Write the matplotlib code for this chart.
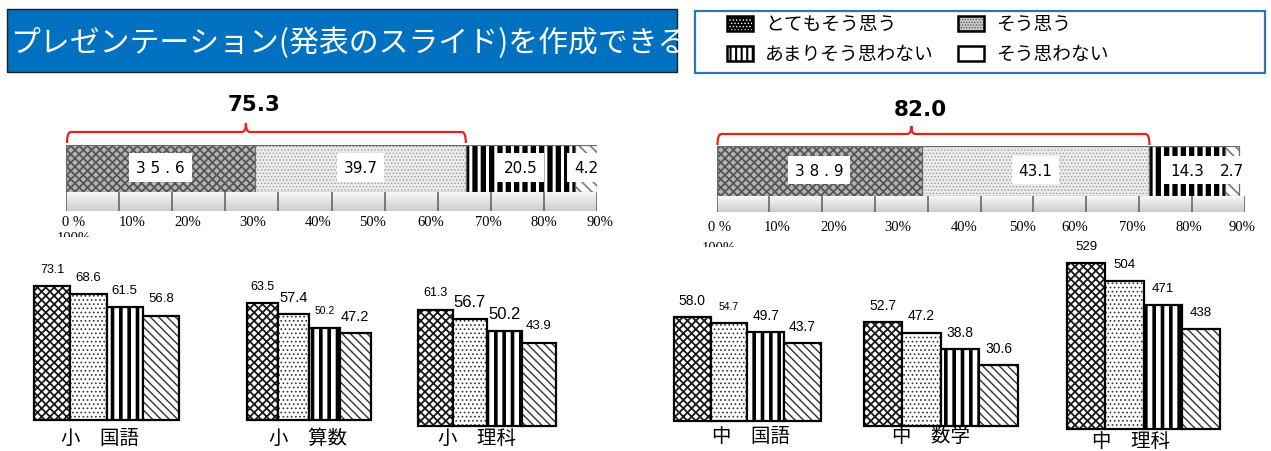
import matplotlib
matplotlib.use('Agg')
import matplotlib.pyplot as plt
import numpy as np
from matplotlib.patches import Rectangle, PathPatch
from matplotlib.path import Path
from matplotlib.transforms import Bbox, blended_transform_factory

plt.rcParams['font.family'] = ['Noto Sans CJK JP', 'DejaVu Sans']
plt.rcParams['hatch.linewidth'] = 1.0

# ---------------- data ----------------
title_text = 'プレゼンテーション(発表のスライド)を作成できる'
legend_labels = ['とてもそう思う', 'そう思う', 'あまりそう思わない', 'そう思わない']

elem_shares = [35.6, 39.7, 20.5, 4.2]
elem_positive = 75.3
jhs_shares = [38.9, 43.1, 14.3, 2.7]
jhs_positive = 82.0

pct_ticks = [0, 10, 20, 30, 40, 50, 60, 70, 80, 90, 100]
pct_tick_labels = ['0 %', '10%', '20%', '30%', '40%', '50%', '60%', '70%', '80%', '90%']
pct_cut_label = '100%'

subject_names = ['小　国語', '小　算数', '小　理科', '中　国語', '中　数学', '中　理科']
subj_kokugo_e = [73.1, 68.6, 61.5, 56.8]
subj_sansu_e = [63.5, 57.4, 50.2, 47.2]
subj_rika_e = [61.3, 56.7, 50.2, 43.9]
subj_kokugo_j = [58.0, 54.7, 49.7, 43.7]
subj_sugaku_j = [52.7, 47.2, 38.8, 30.6]
subj_rika_j = [529, 504, 471, 438]
subject_values = [subj_kokugo_e, subj_sansu_e, subj_rika_e,
                  subj_kokugo_j, subj_sugaku_j, subj_rika_j]

# ---------------- layout / styles ----------------
W, H = 1271, 452
fig = plt.figure(figsize=(W / 100, H / 100), dpi=100)

ov = fig.add_axes([0, 0, 1, 1])
ov.set_xlim(0, W)
ov.set_ylim(H, 0)
ov.axis('off')


def px_axes(x0, y0, x1, y1):
    ax = fig.add_axes([x0 / W, 1 - y1 / H, (x1 - x0) / W, (y1 - y0) / H])
    ax.patch.set_visible(False)
    ax.axis('off')
    return ax


def apply_style(patches, st):
    for p in patches:
        p.set_facecolor(st['fc'])
        p.set_hatch(st['hatch'])
        p.set_edgecolor(st['hc'])
        p.set_linewidth(0)
        if hasattr(p, 'set_hatch_linewidth'):
            p.set_hatch_linewidth(st['hlw'])


STACK_STYLES = [
    dict(fc='#b4b4b4', hatch='xxxx', hc='#555555', hlw=1.3),
    dict(fc='#ececec', hatch='.....', hc='#9a9a9a', hlw=0.6),
    dict(fc='black', hatch='||', hc='white', hlw=2.2),
    dict(fc='white', hatch='\\\\\\', hc='#7a7a7a', hlw=1.2),
]
BAR_STYLES = [
    dict(fc='white', hatch='xxxx', hc='#1a1a1a', hlw=1.3),
    dict(fc='white', hatch='....', hc='#333333', hlw=0.7),
    dict(fc='white', hatch='||', hc='black', hlw=2.6),
    dict(fc='white', hatch='\\\\\\\\', hc='#333333', hlw=1.0),
]
LEG_STYLES = [
    dict(fc='black', hatch='.....', hc='white', hlw=0.6),
    dict(fc='#c8c8c8', hatch='......', hc='#404040', hlw=0.5),
    dict(fc='white', hatch='|||', hc='black', hlw=1.5),
    dict(fc='white', hatch='', hc='black', hlw=1.0),
]

# ---------------- title ----------------
title_box = Rectangle((7, 10), 670, 63, facecolor='#0070C0', edgecolor='#202020', lw=1)
ov.add_patch(title_box)
t = ov.text(10, 43, title_text, color='white', fontsize=21.5, va='center', ha='left')
t.set_clip_path(title_box)

# ---------------- legend ----------------
ov.add_patch(Rectangle((695, 12), 570, 62, facecolor='white', edgecolor='#2E75B6', lw=1.6))
leg_pos = [(727, 17), (958, 17), (727, 47), (958, 47)]
for k, (lx, ly) in enumerate(leg_pos):
    st = LEG_STYLES[k]
    with plt.rc_context({'hatch.linewidth': st['hlw']}):
        r = Rectangle((lx, ly), 26, 15)
        apply_style([r], st)
        ov.add_patch(r)
    ov.add_patch(Rectangle((lx, ly), 26, 15, fill=False, edgecolor='black', lw=1.8))
    ov.text(lx + 38, ly + 7, legend_labels[k], fontsize=13.5, va='center', ha='left')


# ---------------- stacked share panels ----------------
def stacked_panel(shares, positive, x0, x1, bar_top, bar_bot, strip_bot,
                  label_y, label_pos, cut_y, br_line, br_end, br_peak, num_y):
    ax = px_axes(x0, bar_top, x1, bar_bot)
    ax.set_xlim(0, 100)
    ax.set_ylim(0, 1)
    lefts = np.concatenate([[0], np.cumsum(shares)[:-1]])
    for i, (v, l) in enumerate(zip(shares, lefts)):
        st = STACK_STYLES[i]
        with plt.rc_context({'hatch.linewidth': st['hlw']}):
            bars = ax.barh(0.5, v, left=l, height=1.0)
            apply_style(bars.patches, st)
        ax.barh(0.5, v, left=l, height=1.0, fill=False, edgecolor='#6a6a6a', lw=0.9)
        txt = ' '.join(f'{v}') if i == 0 else f'{v}'
        ax.text(l + v / 2, 0.52, txt, ha='center', va='center', fontsize=11,
                family=['DejaVu Sans'],
                bbox=dict(boxstyle='square,pad=0.45', facecolor='white', edgecolor='none'))

    # strip beneath the bar
    sx = px_axes(x0, bar_bot, x1, strip_bot)
    grad = np.linspace(0.97, 0.80, 50).reshape(-1, 1)
    sx.imshow(grad, extent=(0, 100, 0, 1), aspect='auto', cmap='gray', vmin=0, vmax=1)
    sx.vlines(pct_ticks, 0, 1, color='#666666', lw=1.2)
    sx.set_xlim(0, 100)
    sx.set_ylim(0, 1)

    tr = blended_transform_factory(ax.transData, ov.transData)
    for lab, p in zip(pct_tick_labels, label_pos):
        ov.text(p, label_y, lab, transform=tr, ha='center', va='center',
                fontsize=10.5, family=['Liberation Serif', 'DejaVu Serif'])
    ct = ov.text(label_pos[0], cut_y, pct_cut_label, transform=tr, ha='center',
                 va='center', fontsize=10.5, family=['Liberation Serif', 'DejaVu Serif'])
    ct.set_clip_box(Bbox.from_extents(0, H - (cut_y - 1), W, H - (cut_y - 14)))
    ct.set_clip_on(True)

    # red bracket
    xl = ax.transData.transform((0, 0))[0] + 1
    xr = ax.transData.transform((positive, 0))[0]
    xp = ax.transData.transform((positive * 0.45, 0))[0]
    r = 4
    verts = [(xl, br_end), (xl, br_line), (xl + r, br_line),
             (xp - r, br_line), (xp, br_line), (xp, br_peak),
             (xp, br_line), (xp + r, br_line),
             (xr - r, br_line), (xr, br_line), (xr, br_end)]
    codes = [Path.MOVETO, Path.CURVE3, Path.CURVE3,
             Path.LINETO, Path.CURVE3, Path.CURVE3,
             Path.CURVE3, Path.CURVE3,
             Path.LINETO, Path.CURVE3, Path.CURVE3]
    ov.add_patch(PathPatch(Path(verts, codes), fill=False, edgecolor='#E8201C', lw=1.6))
    ov.text(positive * 0.47, num_y, f'{positive:.1f}', transform=tr, ha='center',
            va='center', fontsize=15.5, fontweight='bold', family=['DejaVu Sans'])


left_label_pos = [1.5, 12.4, 23.0, 35.2, 47.5, 57.8, 68.7, 79.5, 90.0, 100.6]
right_label_pos = [0.5, 11.5, 22.3, 34.4, 46.9, 57.9, 67.9, 78.7, 89.5, 99.5]

stacked_panel(elem_shares, elem_positive, 66, 597, 146, 193, 212,
              223, left_label_pos, 239, 133, 144, 124, 105)
stacked_panel(jhs_shares, jhs_positive, 716.5, 1244.5, 147, 197, 213,
              228, right_label_pos, 249, 135, 146, 127, 110)

# ---------------- subject bar groups ----------------
# (left px, right px, baseline px, px per unit, axis base value)
group_boxes = [(34, 179.3, 420.7, 1.83, 0), (247.3, 370.7, 420.7, 1.836, 0),
               (418.3, 556, 426.7, 1.89, 0), (674, 820.7, 422.3, 1.79, 0),
               (864, 1017.7, 426.7, 1.97, 0), (1067.3, 1220, 430, 0.725, 300)]
label_sizes = [[9, 9.5, 9.5, 9.5], [9, 10.5, 7.5, 10.5], [9, 12, 12, 9.5],
               [10, 7.5, 10, 10], [10, 10, 10, 10], [9.5, 9.5, 9.5, 9.5]]
cat_pos = [(100, 438), (308, 438), (477, 438), (751, 437), (931, 437), (1131, 442)]

for vals, (gx0, gx1, gbase, gscale, gb), sizes in zip(subject_values, group_boxes, label_sizes):
    ax = px_axes(gx0, 230, gx1, gbase)
    ax.set_xlim(-0.5, 3.5)
    ax.set_ylim(gb, gb + (gbase - 230) / gscale)
    for i, v in enumerate(vals):
        st = BAR_STYLES[i]
        with plt.rc_context({'hatch.linewidth': st['hlw']}):
            b = ax.bar(i, v - gb, bottom=gb, width=1.0, clip_on=False)
            apply_style(b.patches, st)
        ax.bar(i, v - gb, bottom=gb, width=1.0, fill=False, edgecolor='black',
               lw=1.6, clip_on=False)
        ax.annotate(str(v), (i, v), xytext=(0, 12.5), textcoords='offset points',
                    ha='center', va='center', fontsize=sizes[i],
                    family=['Liberation Sans', 'DejaVu Sans'])

for name, (cx, cy) in zip(subject_names, cat_pos):
    ov.text(cx, cy, name, ha='center', va='center', fontsize=14)

fig.savefig('out.png', dpi=100)
